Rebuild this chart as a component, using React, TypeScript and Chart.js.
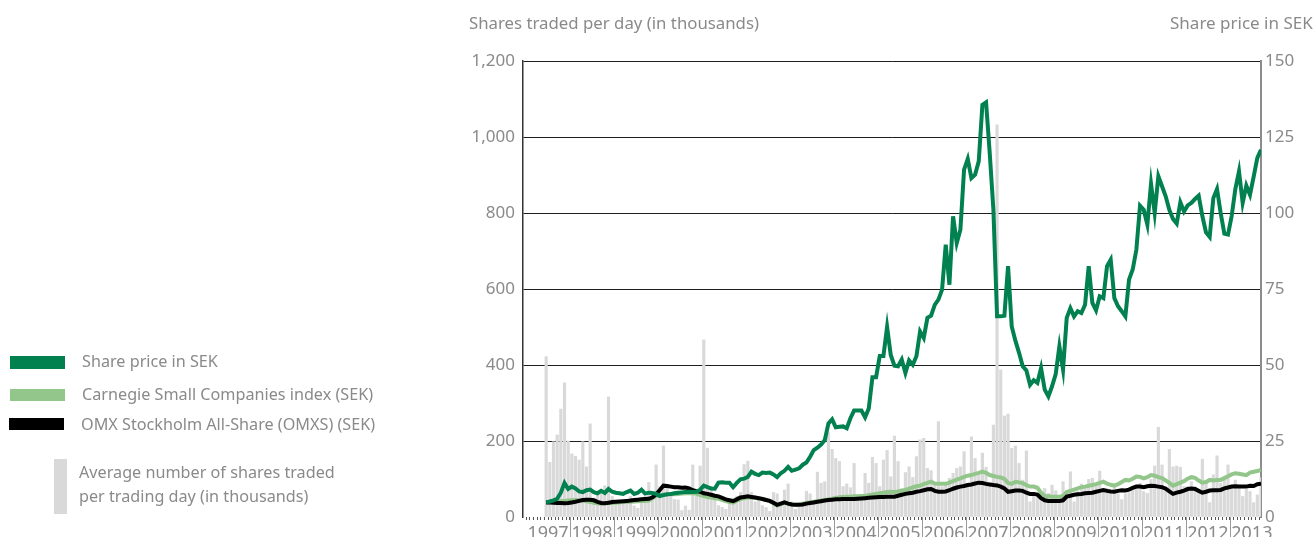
import React, { useEffect, useRef } from 'react';
import { Chart, registerables } from 'chart.js';

Chart.register(...registerables);

// Months are counted from January 1997 (0). The series start in June 1997.
const FIRST_MONTH = 5;
const yearLabels = ['1997', '1998', '1999', '2000', '2001', '2002', '2003', '2004', '2005', '2006', '2007', '2008', '2009', '2010', '2011', '2012', '2013'];
const sharesTicks = [0, 200, 400, 600, 800, 1000, 1200];
const priceTicks = [0, 25, 50, 75, 100, 125, 150];

// Average number of shares traded per trading day (thousands), monthly
const sharesTraded = [
  422, 144, 198, 216, 284, 353, 200,
  166, 160, 150, 198, 132, 245, 50, 58, 62, 82, 316, 54,
  32, 32, 36, 46, 54, 29, 23, 46, 54, 91, 54, 137,
  80, 187, 80, 62, 46, 45, 17, 29, 18, 137, 55, 134,
  466, 181, 80, 45, 30, 25, 20, 35, 50, 55, 65, 138,
  147, 65, 40, 50, 30, 25, 15, 65, 61, 40, 71, 87,
  40, 20, 25, 40, 68, 61, 40, 118, 89, 93, 222, 178,
  154, 146, 80, 87, 77, 141, 54, 45, 115, 89, 157, 141,
  80, 150, 175, 106, 213, 146, 62, 117, 132, 104, 159, 203,
  207, 128, 122, 89, 251, 80, 89, 102, 115, 128, 132, 172,
  87, 211, 154, 115, 168, 131, 80, 242, 1032, 387, 266, 271,
  181, 187, 141, 97, 174, 40, 58, 54, 67, 75, 62, 84,
  69, 45, 93, 58, 119, 40, 67, 87, 75, 99, 102, 84,
  121, 67, 75, 62, 80, 61, 46, 61, 64, 75, 84, 89,
  67, 62, 99, 134, 236, 137, 80, 178, 132, 134, 131, 80,
  80, 93, 80, 71, 152, 93, 38, 111, 161, 89, 97, 137,
  80, 97, 84, 54, 73, 67, 38, 58, 104,
];

// Share price in SEK, monthly
const sharePrice = [
  4.8, 5.1, 5.5, 6.0, 8.0, 11.2, 9.2,
  10.0, 9.4, 8.4, 8.2, 8.8, 9.0, 8.2, 7.8, 8.6, 7.9, 9.2, 8.3,
  8.0, 7.8, 7.6, 8.2, 8.7, 7.6, 8.0, 9.0, 7.7, 8.0, 7.9, 7.6,
  6.9, 7.2, 7.5, 7.6, 7.8, 8.0, 8.1, 8.2, 8.3, 8.2, 8.3, 9.0,
  10.3, 9.8, 9.4, 9.3, 11.3, 11.4, 11.3, 11.3, 9.8, 11.2, 12.4, 12.6,
  13.2, 14.9, 14.2, 13.8, 14.6, 14.5, 14.6, 14.0, 13.1, 14.4, 15.2, 16.5,
  15.2, 15.6, 16.0, 17.2, 17.9, 19.8, 22.0, 22.8, 23.8, 25.3, 30.8, 32.1,
  29.5, 29.7, 29.8, 29.2, 32.5, 35.0, 35.0, 35.0, 32.8, 35.7, 46.0, 46.0,
  53.0, 53.0, 62.5, 53.3, 49.8, 49.6, 51.8, 47.4, 51.5, 50.1, 52.9, 61.0,
  58.9, 65.5, 66.2, 69.8, 71.5, 74.8, 89.6, 76.4, 98.9, 90.1, 94.5, 114.3,
  117.8, 111.5, 112.6, 117.0, 135.6, 136.4, 119.7, 101.1, 66.0, 66.0, 66.2, 82.5,
  62.7, 58.0, 54.0, 49.6, 48.2, 43.5, 45.0, 44.1, 49.0, 41.9, 39.7, 43.0,
  47.0, 56.1, 48.5, 65.5, 68.7, 66.0, 67.7, 67.1, 69.8, 82.5, 70.4, 68.0,
  72.6, 72.0, 82.5, 84.6, 72.0, 69.3, 67.7, 66.0, 78.1, 81.4, 87.9, 102.4,
  101.1, 96.2, 109.6, 100.0, 112.1, 108.8, 105.5, 101.0, 98.0, 96.5, 103.5, 100.5,
  102.5, 103.3, 104.6, 105.7, 99.0, 93.6, 92.1, 104.9, 107.9, 100.0, 93.2, 92.9,
  99.0, 107.9, 113.7, 103.3, 109.0, 106.0, 112.0, 118.1, 120.8,
];

// Carnegie Small Companies index (SEK), monthly
const carnegieIndex = [
  4.8, 4.9, 5.0, 5.1, 5.2, 5.3, 5.4,
  5.5, 5.6, 5.5, 5.4, 5.2, 5.0, 4.7, 4.5, 4.4, 4.5, 4.6, 4.6,
  4.7, 4.8, 4.9, 5.0, 5.0, 5.1, 5.2, 5.3, 5.3, 5.4, 6.2, 7.0,
  7.2, 7.4, 7.4, 7.6, 7.5, 7.6, 7.7, 7.8, 7.8, 7.9, 7.6, 7.2,
  6.9, 6.6, 6.4, 6.2, 6.0, 5.6, 5.2, 4.9, 4.7, 5.4, 5.9, 6.2,
  6.4, 6.4, 6.3, 6.1, 5.9, 5.6, 5.2, 4.5, 3.8, 4.2, 4.8, 4.4,
  4.1, 4.0, 4.1, 4.3, 4.6, 4.8, 5.0, 5.2, 5.4, 5.6, 5.8, 6.0,
  6.3, 6.5, 6.6, 6.7, 6.7, 6.8, 6.8, 6.9, 7.0, 7.2, 7.4, 7.6,
  7.8, 8.0, 8.2, 8.3, 8.2, 8.4, 8.7, 8.9, 9.3, 9.7, 10.1, 10.3,
  10.8, 11.2, 11.6, 11.0, 10.9, 10.9, 10.9, 11.3, 11.8, 12.3, 12.7, 13.2,
  13.6, 13.8, 14.2, 14.5, 14.9, 14.5, 13.8, 13.5, 13.2, 13.0, 12.5, 11.2,
  10.9, 11.6, 11.4, 11.1, 10.5, 10.0, 10.0, 9.6, 8.0, 6.9, 6.8, 6.7,
  6.7, 6.7, 6.9, 8.2, 8.6, 9.0, 9.4, 9.8, 10.0, 10.3, 10.5, 10.8,
  11.2, 11.6, 11.0, 10.6, 10.3, 10.8, 11.5, 12.2, 12.0, 12.6, 13.3, 13.2,
  12.7, 13.1, 13.8, 13.6, 13.1, 12.8, 12.0, 11.2, 10.3, 10.8, 11.3, 11.8,
  12.6, 13.1, 12.9, 12.0, 11.3, 11.5, 12.2, 12.0, 12.2, 12.2, 12.8, 13.4,
  14.0, 14.4, 14.2, 14.0, 13.8, 14.6, 14.9, 15.1, 15.5,
];

// OMX Stockholm All-Share (OMXS) (SEK), monthly
const omxIndex = [
  4.8, 4.8, 4.7, 4.6, 4.6, 4.5, 4.6,
  4.8, 5.0, 5.3, 5.6, 5.7, 5.7, 5.5, 5.0, 4.6, 4.5, 4.7, 4.9,
  5.0, 5.1, 5.2, 5.3, 5.4, 5.6, 5.7, 5.8, 5.9, 6.0, 6.5, 7.5,
  8.9, 10.3, 10.2, 10.0, 9.8, 9.8, 9.6, 9.7, 9.4, 8.8, 8.5, 8.3,
  7.8, 7.6, 7.3, 7.0, 6.8, 6.3, 5.8, 5.5, 5.2, 5.8, 6.4, 6.6,
  6.8, 6.6, 6.4, 6.2, 5.9, 5.6, 5.3, 4.7, 4.0, 4.4, 4.8, 4.4,
  4.1, 4.0, 4.0, 4.1, 4.4, 4.6, 4.8, 5.0, 5.2, 5.4, 5.6, 5.7,
  5.8, 5.8, 5.9, 5.9, 5.9, 5.9, 6.0, 6.1, 6.2, 6.3, 6.4, 6.5,
  6.6, 6.6, 6.7, 6.7, 6.7, 7.0, 7.3, 7.6, 7.8, 8.0, 8.3, 8.5,
  8.8, 9.1, 9.2, 8.6, 8.3, 8.3, 8.4, 8.8, 9.3, 9.7, 10.0, 10.2,
  10.5, 10.7, 11.0, 11.3, 11.2, 10.9, 10.7, 10.5, 10.4, 10.0, 9.4, 8.3,
  8.5, 8.7, 8.7, 8.6, 8.0, 7.6, 7.6, 7.4, 6.2, 5.5, 5.3, 5.3,
  5.3, 5.3, 5.5, 6.7, 7.0, 7.3, 7.5, 7.6, 7.8, 7.9, 8.0, 8.3,
  8.6, 8.9, 8.6, 8.4, 8.3, 8.6, 8.8, 8.7, 9.0, 9.6, 10.0, 10.0,
  9.8, 10.1, 10.3, 10.2, 10.0, 9.8, 9.3, 8.4, 7.6, 8.0, 8.3, 8.7,
  9.2, 9.4, 9.2, 8.6, 8.0, 8.3, 8.7, 8.8, 8.8, 8.9, 9.4, 9.7,
  10.0, 10.1, 10.0, 10.0, 10.0, 10.3, 10.2, 10.8, 10.9,
];

const TEXT_GRAY = '#8a8a8a';
const FONT = '"Noto Sans", sans-serif';
const DARK_GREEN = '#00814f';
const LIGHT_GREEN = '#92c68a';
const BAR_GRAY = '#d9d9d9';

const toPoints = (arr: number[]) => arr.map((y, i) => ({ x: FIRST_MONTH + i, y }));

const yearSeparators = {
  id: 'yearSeparators',
  afterDraw(chart: any) {
    const { ctx, chartArea } = chart;
    const xs = chart.scales.x;
    ctx.save();
    ctx.strokeStyle = '#9a9a9a';
    ctx.lineWidth = 1;
    for (let k = 1; k < yearLabels.length; k++) {
      const px = Math.round(xs.getPixelForValue(12 * k - 0.5)) + 0.5;
      ctx.beginPath();
      ctx.moveTo(px, chartArea.bottom);
      ctx.lineTo(px, chart.height);
      ctx.stroke();
    }
    ctx.restore();
  },
};

export default function App() {
  const ref = useRef<HTMLCanvasElement | null>(null);

  useEffect(() => {
    document.body.style.margin = '0';
    const canvas = ref.current;
    if (!canvas) return;
    const chart = new Chart(canvas, {
      type: 'bar',
      data: {
        datasets: [
          {
            type: 'line',
            label: 'Share price in SEK',
            data: toPoints(sharePrice),
            yAxisID: 'y1',
            borderColor: DARK_GREEN,
            borderWidth: 4,
            pointRadius: 0,
            tension: 0,
            order: 1,
          },
          {
            type: 'line',
            label: 'OMX Stockholm All-Share (OMXS) (SEK)',
            data: toPoints(omxIndex),
            yAxisID: 'y1',
            borderColor: '#000000',
            borderWidth: 4,
            pointRadius: 0,
            tension: 0,
            order: 2,
          },
          {
            type: 'line',
            label: 'Carnegie Small Companies index (SEK)',
            data: toPoints(carnegieIndex),
            yAxisID: 'y1',
            borderColor: LIGHT_GREEN,
            borderWidth: 4,
            pointRadius: 0,
            tension: 0,
            order: 3,
          },
          {
            type: 'bar',
            label: 'Average number of shares traded per trading day (in thousands)',
            data: toPoints(sharesTraded),
            yAxisID: 'y',
            backgroundColor: BAR_GRAY,
            barThickness: 2.5,
            order: 4,
          },
        ],
      } as any,
      options: {
        responsive: false,
        animation: false,
        devicePixelRatio: 1,
        layout: { padding: { left: 443, top: 61, right: 0, bottom: 0 } },
        plugins: { legend: { display: false }, tooltip: { enabled: false } },
        scales: {
          x: {
            type: 'linear',
            min: -1.32,
            max: 200,
            offset: false,
            afterBuildTicks: (scale: any) => {
              const t = [];
              for (let m = -1; m < 200; m++) t.push({ value: m + 0.5 });
              scale.ticks = t;
            },
            afterFit: (scale: any) => {
              scale.height = 20;
            },
            ticks: {
              autoSkip: false,
              maxRotation: 0,
              minRotation: 0,
              padding: 3,
              color: TEXT_GRAY,
              font: { family: FONT, size: 18 },
              callback: (value: any) => {
                const v = Number(value) + 0.5;
                if (v % 12 === 6) return yearLabels[(v - 6) / 12] ?? '';
                return '';
              },
            },
            grid: {
              display: true,
              offset: false,
              drawOnChartArea: false,
              drawTicks: true,
              tickLength: 3,
              tickColor: '#555',
              tickWidth: 1,
            },
            border: { display: false },
          },
          y: {
            type: 'linear',
            position: 'left',
            min: 0,
            max: 1200,
            afterBuildTicks: (scale: any) => {
              scale.ticks = sharesTicks.map((value) => ({ value }));
            },
            afterFit: (scale: any) => {
              scale.width = 80;
            },
            ticks: {
              padding: 8,
              color: TEXT_GRAY,
              font: { family: FONT, size: 17 },
              callback: (v: any) => Number(v).toLocaleString('en-US'),
            },
            grid: {
              color: (ctx: any) => (ctx.tick && ctx.tick.value === 0 ? 'rgba(0,0,0,0)' : '#1e1e1e'),
              lineWidth: 1,
              drawTicks: false,
            },
            border: { display: true, color: '#333', width: 1.5 },
          },
          y1: {
            type: 'linear',
            position: 'right',
            min: 0,
            max: 150,
            afterBuildTicks: (scale: any) => {
              scale.ticks = priceTicks.map((value) => ({ value }));
            },
            afterFit: (scale: any) => {
              scale.width = 54;
            },
            ticks: {
              padding: 4,
              color: TEXT_GRAY,
              font: { family: FONT, size: 17 },
            },
            grid: { display: false, drawTicks: false },
            border: { display: true, color: '#8c8c8c', width: 2 },
          },
        },
      } as any,
      plugins: [yearSeparators],
    });
    return () => chart.destroy();
  }, []);

  const text: React.CSSProperties = {
    position: 'absolute',
    fontFamily: FONT,
    color: TEXT_GRAY,
    whiteSpace: 'nowrap',
    lineHeight: '17px',
  };

  return (
    <div style={{ position: 'absolute', left: 0, top: 0, width: 1315, height: 537, background: '#fff', overflow: 'hidden' }}>
      <canvas ref={ref} width={1315} height={537} style={{ position: 'absolute', left: 0, top: 0, width: 1315, height: 537 }} />
      <div style={{ ...text, left: 469, top: 14, fontSize: 16.8 }}>Shares traded per day (in thousands)</div>
      <div style={{ ...text, left: 1170, top: 14, fontSize: 17 }}>Share price in SEK</div>

      <div style={{ position: 'absolute', left: 10, top: 356, width: 55, height: 13, background: DARK_GREEN }} />
      <div style={{ ...text, left: 82, top: 353, fontSize: 16.2 }}>Share price in SEK</div>

      <div style={{ position: 'absolute', left: 10, top: 389, width: 55, height: 12, background: LIGHT_GREEN }} />
      <div style={{ ...text, left: 82, top: 386, fontSize: 16.2 }}>Carnegie Small Companies index (SEK)</div>

      <div style={{ position: 'absolute', left: 9, top: 418, width: 55, height: 12, background: '#000' }} />
      <div style={{ ...text, left: 81, top: 416, fontSize: 16.2, width: 294, overflow: 'hidden' }}>OMX Stockholm All-Share (OMXS) (SEK)</div>

      <div style={{ position: 'absolute', left: 54, top: 459, width: 13, height: 55, background: BAR_GRAY }} />
      <div style={{ ...text, left: 79, top: 464, fontSize: 16.2 }}>Average number of shares traded</div>
      <div style={{ ...text, left: 79, top: 488, fontSize: 16.2 }}>per trading day (in thousands)</div>
    </div>
  );
}
